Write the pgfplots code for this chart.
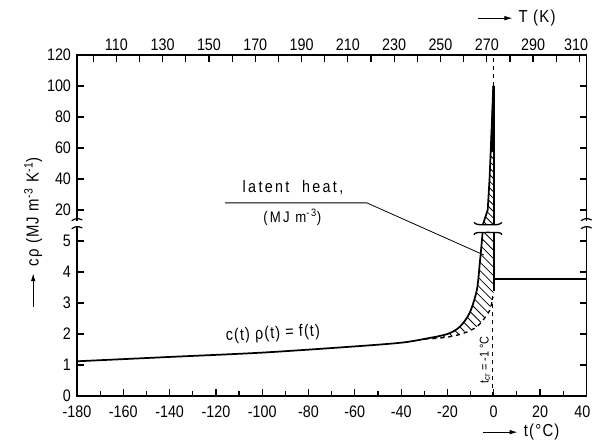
\documentclass[border=0pt]{standalone}
\usepackage{fontspec}
\setmainfont{Liberation Sans}[FakeStretch=0.86]
\newfontfamily\spaced{Liberation Sans}[FakeStretch=0.86,LetterSpace=14]
\newfontfamily\spacedb{Liberation Sans}[FakeStretch=0.86,LetterSpace=7]
\usepackage{pgfplots}
\pgfplotsset{compat=1.18}
\usetikzlibrary{patterns.meta,arrows.meta}
\begin{document}
\begin{tikzpicture}[x=1pt,y=1pt]
\useasboundingbox (-57.75,-36) rectangle (386.25,297);
% top axis (T in K)
\begin{axis}[
  at={(0,0)}, anchor=south west, scale only axis, width=382pt, height=255.75pt,
  xmin=93, xmax=313, ymin=0, ymax=11,
  axis x line*=top, hide y axis,
  xtick={110,130,...,310}, minor xtick={100,120,...,300},
  xtick pos=right, xticklabel pos=right,
  tick align=inside, major tick length=5pt, minor tick length=5pt,
  every tick/.style={black, line width=0.9pt},
  axis line style={line width=1.1pt},
  tick label style={font=\fontsize{12.5}{13}\selectfont},
  xticklabel style={yshift=0pt},
  xticklabels={110,130,150,170,190,210,230,250,270,290,{\kern-5pt 310}},
]
\addplot[draw=none] coordinates {(100,1) (300,1)};
\end{axis}
% main axis
\begin{axis}[
  at={(0,0)}, anchor=south west, scale only axis, width=382pt, height=255.75pt,
  xmin=-180, xmax=40, ymin=0, ymax=11,
  xtick={-180,-160,...,40},
  xticklabels={-180,-160,-140,-120,-100,-80,-60,-40,-20,0,20,{\kern-6pt 40}},
  minor x tick num=1,
  ytick={0,1,...,11}, yticklabels={0,1,2,3,4,5,20,40,60,80,100,120},
  xtick pos=left, ytick pos=both, yticklabel pos=left,
  tick align=inside, major tick length=5pt, minor tick length=4pt,
  every tick/.style={black, line width=0.9pt},
  axis line style={line width=1.1pt},
  tick label style={font=\fontsize{12.5}{13}\selectfont},
  xticklabel style={yshift=-3.5pt},
  yticklabel style={xshift=-1pt},
  clip=false,
]
% hatched lower region (latent heat)
\addplot[draw=none, pattern={Lines[angle=-45,distance=4.5pt,line width=0.6pt]}] coordinates {
(-32,1.82) (-30,1.85) (-25,1.92) (-20,2.0) (-17,2.1) (-14.7,2.23) (-12,2.45) (-10.4,2.68)
(-8.5,3.05) (-7.3,3.42) (-6,4.3) (-5.2,4.93) (-4.8,5.28) (0,5.28) (0,3.35) (-1.7,2.77)
(-4.6,2.45) (-7.4,2.23) (-11.7,2.06) (-17.6,1.93) (-24.6,1.86) (-32,1.82)} -- cycle;
% main curve c(t)rho(t)
\addplot[line width=1.3pt, smooth] coordinates {(-180,1.12) (-140,1.26) (-100,1.40) (-60,1.60)
(-40,1.72) (-30,1.84) (-20,2.0) (-14.7,2.23) (-10.4,2.68) (-7.3,3.42) (-6,4.3) (-5.2,4.93) (-4.8,5.28)};
% dashed baseline
\addplot[dashed, line width=1pt, smooth] coordinates {(-30,1.84) (-24.6,1.86) (-17.6,1.93)
(-11.7,2.06) (-7.4,2.23) (-4.6,2.45) (-1.7,2.77) (-0.3,3.2)};
% right boundary and liquid
\addplot[line width=1.3pt] coordinates {(0,5.28) (0,3.4)};
\addplot[line width=1.3pt] coordinates {(0,3.77) (40,3.77)};
% dashed t_cr line
\addplot[dashed, line width=0.8pt] coordinates {(-0.6,0) (-0.6,3.3)};
\addplot[dashed, line width=0.8pt] coordinates {(-0.3,10) (-0.3,11)};
% spike (upper scale)
\addplot[draw=none, pattern={Lines[angle=-45,distance=3.5pt,line width=0.6pt]}] coordinates {
(-4.7,5.52) (-3.5,5.8) (-2.6,6.0) (-1.8,7.0) (-1.3,7.9) (0,7.9) (0,5.52)} -- cycle;
\addplot[fill=black, draw=black, line width=0.8pt] coordinates {(-1.3,7.9) (-0.7,9.0) (-0.2,10.0) (0,10.0) (0,7.9)} -- cycle;
\addplot[line width=1.3pt] coordinates {(-4.7,5.52) (-3.5,5.8) (-2.6,6.0) (-1.8,7.0) (-1.3,7.9) (-0.7,9) (-0.2,10)};
\addplot[line width=1.3pt] coordinates {(0,5.52) (0,10)};
% caps at the break
\addplot[line width=1pt, smooth] coordinates {(-8.5,5.2) (-7,5.27) (2,5.27) (3.5,5.2)};
\addplot[line width=1pt, smooth] coordinates {(-8.5,5.6) (-6.5,5.53) (1.5,5.53) (3.5,5.6)};
% leader line
\addplot[line width=0.6pt] coordinates {(-116,6.23) (-54.8,6.23) (-4.3,4.55)};
% labels
\node[font=\spaced\fontsize{12.5}{13}\selectfont] at (axis cs:-86.7,6.72) {latent\ \ heat,};
\node[font=\spaced\fontsize{11.5}{12}\selectfont] at (axis cs:-87,5.77) {(MJ m\textsuperscript{-3})};
\node[font=\spacedb\fontsize{12.5}{12}\selectfont, rotate=3] at (axis cs:-95.4,2.0) {c(t) ρ(t) = f(t)};
\node[font=\fontsize{9.5}{10}\selectfont, rotate=90] at (axis cs:-3.8,1.16) {t\textsubscript{cr} = -1 °C};
% axis titles
\draw[-{Latex[length=6pt,width=3.5pt]}, line width=0.7pt] (rel axis cs:0.788,1.108) -- (rel axis cs:0.855,1.108);
\node[anchor=west, font=\spacedb\fontsize{13}{13}\selectfont] at (rel axis cs:0.858,1.108) {T (K)};
\draw[-{Latex[length=6pt,width=3.5pt]}, line width=0.7pt] (rel axis cs:0.798,-0.106) -- (rel axis cs:0.865,-0.106);
\node[anchor=west, font=\spacedb\fontsize{13}{13}\selectfont] at (rel axis cs:0.868,-0.106) {t(°C)};
\draw[-{Latex[length=6pt,width=3.5pt]}, line width=0.7pt] (rel axis cs:-0.086,0.262) -- (rel axis cs:-0.086,0.36);
\node[anchor=west, rotate=90, font=\spacedb\fontsize{13}{13}\selectfont] at (rel axis cs:-0.086,0.366) {cρ (MJ m\textsuperscript{-3} K\textsuperscript{-1})};
% break positions
\coordinate (bl) at (axis cs:-180,5.55);
\coordinate (br) at (axis cs:40,5.55);
\end{axis}
% axis breaks
\foreach \c in {bl,br}{
  \fill[white] ([xshift=-1.5pt,yshift=-2.2pt]\c) rectangle ([xshift=1.5pt,yshift=2.2pt]\c);
  \draw[line width=0.9pt] ([xshift=-4pt,yshift=-3.5pt]\c) .. controls ([xshift=0pt,yshift=-1.5pt]\c) .. ([xshift=4pt,yshift=-3pt]\c);
  \draw[line width=0.9pt] ([xshift=-4pt,yshift=2.5pt]\c) .. controls ([xshift=0pt,yshift=4.5pt]\c) .. ([xshift=4pt,yshift=3pt]\c);
}
\end{tikzpicture}
\end{document}
